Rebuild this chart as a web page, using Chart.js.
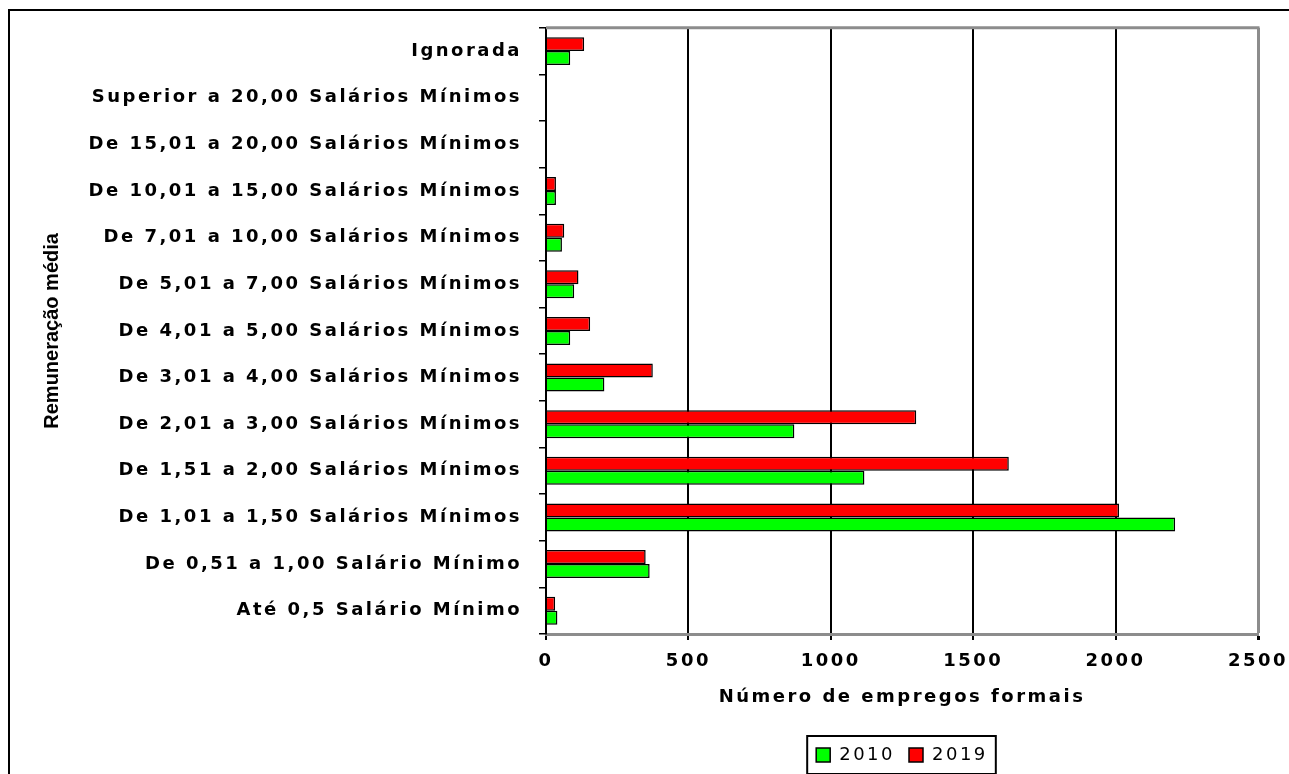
<!DOCTYPE html>
<html>
<head>
<meta charset="utf-8">
<title>Remuneração média</title>
<script src="https://cdn.jsdelivr.net/npm/chart.js@4.4.0/dist/chart.umd.min.js"></script>
<style>
  html, body { margin: 0; padding: 0; background: #fff; }
  #chart { display: block; }
</style>
</head>
<body>
<canvas id="chart" width="1289" height="774"></canvas>
<script>
// categories, top to bottom as shown
const categories = [
    'Ignorada',
    'Superior a 20,00 Salários Mínimos',
    'De 15,01 a 20,00 Salários Mínimos',
    'De 10,01 a 15,00 Salários Mínimos',
    'De 7,01 a 10,00 Salários Mínimos',
    'De 5,01 a 7,00 Salários Mínimos',
    'De 4,01 a 5,00 Salários Mínimos',
    'De 3,01 a 4,00 Salários Mínimos',
    'De 2,01 a 3,00 Salários Mínimos',
    'De 1,51 a 2,00 Salários Mínimos',
    'De 1,01 a 1,50 Salários Mínimos',
    'De 0,51 a 1,00 Salário Mínimo',
    'Até 0,5 Salário Mínimo'
];

// series (number of formal jobs)
const values2010 = [85, 0, 0, 35, 56, 99, 85, 205, 872, 1118, 2209, 364, 40];
const values2019 = [134, 0, 0, 35, 64, 114, 155, 375, 1300, 1625, 2012, 350, 32];

const xTicks = [0, 500, 1000, 1500, 2000, 2500];

const xTitle = 'Número de empregos formais';
const yTitle = 'Remuneração média';

// styles
const FONT = "'DejaVu Sans', 'Liberation Sans', Arial, sans-serif";
const TITLE_FONT = "'Liberation Sans', Arial, sans-serif";
const SPACING = '2.5px';
const GRAY = '#8c8c8c';

// helper plugin: white background, outer frame, plot top edge, y title, legend box
const framePlugin = {
    id: 'frame',
    beforeLayout(chart) {
        chart.ctx.letterSpacing = SPACING;
    },
    beforeDraw(chart) {
        const ctx = chart.ctx;
        ctx.save();
        ctx.fillStyle = '#fff';
        ctx.fillRect(0, 0, chart.width, chart.height);
        // outer frame (runs off the right and bottom edges)
        ctx.strokeStyle = '#000';
        ctx.lineWidth = 2;
        ctx.beginPath();
        ctx.moveTo(9, chart.height + 5);
        ctx.lineTo(9, 10);
        ctx.lineTo(chart.width + 5, 10);
        ctx.stroke();
        ctx.restore();
        ctx.letterSpacing = SPACING;
    },
    afterDraw(chart) {
        const ctx = chart.ctx;
        const area = chart.chartArea;
        ctx.save();
        // top edge of the plot box
        ctx.strokeStyle = GRAY;
        ctx.lineWidth = 3;
        ctx.beginPath();
        ctx.moveTo(area.left, area.top);
        ctx.lineTo(area.right + 1.5, area.top);
        ctx.stroke();

        // y title, normal spacing
        ctx.letterSpacing = '0px';
        ctx.fillStyle = '#000';
        ctx.font = 'bold 20px ' + TITLE_FONT;
        ctx.textAlign = 'center';
        ctx.textBaseline = 'alphabetic';
        ctx.translate(58, (area.top + area.bottom) / 2);
        ctx.rotate(-Math.PI / 2);
        ctx.fillText(yTitle, 0, 0);
        ctx.restore();

        // legend frame
        const boxes = chart.legend.legendHitBoxes;
        if (boxes && boxes.length) {
            const left = Math.min(...boxes.map(b => b.left)) - 9;
            const right = Math.max(...boxes.map(b => b.left + b.width)) + 8;
            const cy = boxes[0].top + boxes[0].height / 2;
            ctx.save();
            ctx.strokeStyle = '#000';
            ctx.lineWidth = 2;
            ctx.strokeRect(left, cy - 19, right - left, 38);
            ctx.restore();
        }
        ctx.letterSpacing = SPACING;
    }
};

const ctx = document.getElementById('chart').getContext('2d');

new Chart(ctx, {
    type: 'bar',
    data: {
        labels: categories,
        datasets: [
            {
                label: '2019',
                data: values2019,
                backgroundColor: '#ff0000',
                borderColor: '#000',
                borderWidth: 1.5,
                categoryPercentage: 0.6,
                barPercentage: 1.0
            },
            {
                label: '2010',
                data: values2010,
                backgroundColor: '#00ff00',
                borderColor: '#000',
                borderWidth: 1.5,
                categoryPercentage: 0.6,
                barPercentage: 1.0
            }
        ]
    },
    options: {
        indexAxis: 'y',
        responsive: false,
        animation: false,
        devicePixelRatio: 1,
        layout: { padding: { top: 26, right: 31, bottom: 0, left: 10 } },
        scales: {
            x: {
                type: 'linear',
                min: xTicks[0],
                max: xTicks[xTicks.length - 1],
                afterFit: s => {
                    s.height = 98;
                    // let the last label hang over the plot edge
                    s.paddingLeft = 0;
                    s.paddingRight = 0;
                },
                ticks: {
                    stepSize: xTicks[1] - xTicks[0],
                    color: '#000',
                    padding: 11,
                    font: { family: FONT, size: 18, weight: 'bold' },
                    callback: v => String(v)
                },
                grid: {
                    color: c => (c.tick && c.tick.value === xTicks[xTicks.length - 1]) ? GRAY : '#000',
                    lineWidth: c => (c.tick && c.tick.value === xTicks[xTicks.length - 1]) ? 3 : 2,
                    tickColor: '#000',
                    tickLength: 6
                },
                border: { color: GRAY, width: 3 },
                title: {
                    display: true,
                    text: xTitle,
                    color: '#000',
                    padding: { top: 0, bottom: 24 },
                    font: { family: FONT, size: 18, weight: 'bold' }
                }
            },
            y: {
                afterFit: s => { s.width = 536; },
                ticks: {
                    color: '#000',
                    padding: 17,
                    autoSkip: false,
                    font: { family: FONT, size: 18, weight: 'bold' }
                },
                grid: {
                    offset: true,
                    drawOnChartArea: false,
                    tickColor: '#000',
                    tickLength: 7,
                    lineWidth: 1.5
                },
                border: { color: '#000', width: 2 }
            }
        },
        plugins: {
            tooltip: { enabled: false },
            legend: {
                position: 'bottom',
                fullSize: false,
                reverse: true,
                labels: {
                    boxWidth: 14,
                    boxHeight: 14,
                    padding: 14,
                    color: '#000',
                    font: { family: FONT, size: 18 }
                }
            }
        }
    },
    plugins: [framePlugin]
});
</script>
</body>
</html>
